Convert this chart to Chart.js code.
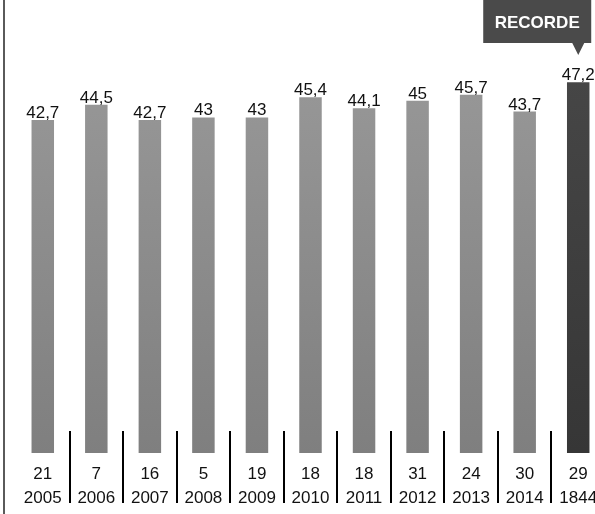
<!DOCTYPE html>
<html lang="pt">
<head>
    <meta charset="UTF-8">
    <title>Recorde</title>
    <script src="https://cdn.jsdelivr.net/npm/chart.js"></script>
    <style>
        html, body { margin: 0; padding: 0; background: #fff; overflow: hidden; }
        #wrap { position: absolute; left: 0; top: 0; width: 606px; height: 514px; }
    </style>
</head>
<body>
    <div id="wrap">
        <canvas id="recordChart"></canvas>
    </div>
    <script>
        const years = ['2005', '2006', '2007', '2008', '2009', '2010', '2011', '2012', '2013', '2014', '1844'];
        const counts = ['21', '7', '16', '5', '19', '18', '18', '31', '24', '30', '29'];
        const values = [42.7, 44.5, 42.7, 43, 43, 45.4, 44.1, 45, 45.7, 43.7, 47.2];
        const highlightIndex = 10;
        const highlightText = 'RECORDE';

        const fontFamily = '"Liberation Sans", Arial, sans-serif';
        const fmt = v => String(v).replace('.', ',');

        const barFill = (context) => {
            const chart = context.chart;
            const area = chart.chartArea;
            if (!area) return '#888';
            const g = chart.ctx.createLinearGradient(0, area.top + 80, 0, area.bottom);
            if (context.dataIndex === highlightIndex) {
                g.addColorStop(0, '#464646');
                g.addColorStop(1, '#363636');
            } else {
                g.addColorStop(0, '#979797');
                g.addColorStop(1, '#7f7f7f');
            }
            return g;
        };

        const decorations = {
            id: 'decorations',
            afterDatasetsDraw(chart) {
                const ctx = chart.ctx;
                const xs = chart.scales.x;
                const bars = chart.getDatasetMeta(0).data;
                ctx.save();

                // left border
                ctx.fillStyle = '#5a5a5a';
                ctx.fillRect(3, 0, 2, chart.height);

                // value labels
                ctx.fillStyle = '#111';
                ctx.font = '17px ' + fontFamily;
                ctx.textAlign = 'center';
                ctx.textBaseline = 'alphabetic';
                bars.forEach((bar, i) => {
                    ctx.fillText(fmt(values[i]), bar.x, bar.y - 2);
                });

                // separators between categories
                ctx.strokeStyle = '#000';
                ctx.lineWidth = 2;
                for (let i = 1; i < years.length; i++) {
                    const x = Math.round((xs.getPixelForTick(i - 1) + xs.getPixelForTick(i)) / 2);
                    ctx.beginPath();
                    ctx.moveTo(x, 431);
                    ctx.lineTo(x, 503);
                    ctx.stroke();
                }

                // callout over the record bar
                const hb = bars[highlightIndex];
                const left = hb.x - 95, right = hb.x + 13, top = 0, bottom = 43;
                ctx.fillStyle = '#4a4a4a';
                ctx.fillRect(left, top, right - left, bottom - top);
                ctx.beginPath();
                ctx.moveTo(hb.x - 6, bottom);
                ctx.lineTo(hb.x + 6, bottom);
                ctx.lineTo(hb.x, bottom + 12);
                ctx.closePath();
                ctx.fill();
                ctx.fillStyle = '#fff';
                ctx.font = 'bold 17px ' + fontFamily;
                ctx.textBaseline = 'middle';
                ctx.fillText(highlightText, (left + right) / 2, 23);

                ctx.restore();
            }
        };

        new Chart(document.getElementById('recordChart'), {
            type: 'bar',
            data: {
                labels: years.map((y, i) => [counts[i], y]),
                datasets: [{
                    data: values,
                    backgroundColor: barFill,
                    borderWidth: 0,
                    categoryPercentage: 1,
                    barPercentage: 0.42
                }]
            },
            options: {
                responsive: true,
                maintainAspectRatio: false,
                animation: false,
                layout: { padding: { left: 16, right: 1, top: 0, bottom: 0 } },
                plugins: {
                    legend: { display: false },
                    tooltip: { enabled: false }
                },
                scales: {
                    x: {
                        grid: { display: false },
                        border: { display: false },
                        ticks: {
                            color: '#111',
                            padding: 1,
                            maxRotation: 0,
                            autoSkip: false,
                            font: { family: fontFamily, size: 17, lineHeight: '24px' }
                        },
                        afterFit: (s) => { s.height = 61; }
                    },
                    y: {
                        display: false,
                        min: 3,
                        max: 57
                    }
                }
            },
            plugins: [decorations]
        });
    </script>
</body>
</html>
